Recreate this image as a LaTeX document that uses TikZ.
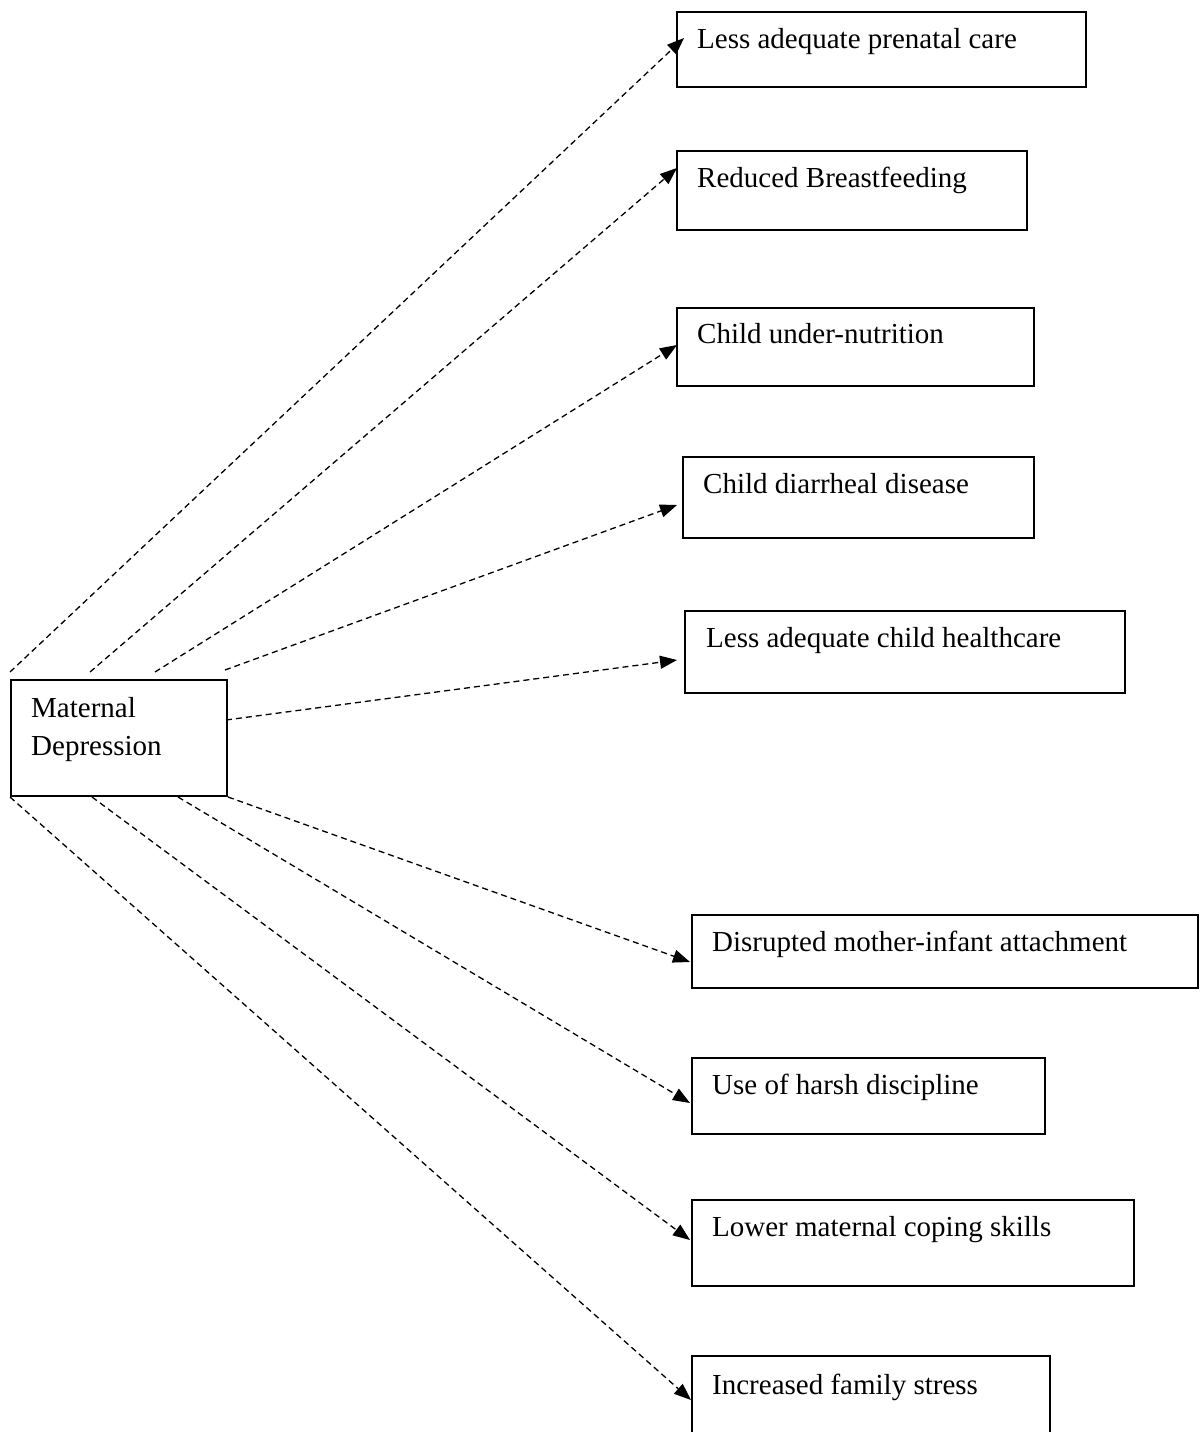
\documentclass[tikz,border=0pt]{standalone}
\usepackage{fontspec}
\setmainfont{Liberation Serif}
\usetikzlibrary{arrows.meta}
\begin{document}
\begin{tikzpicture}[x=1pt,y=-1pt,
  box/.style={draw,line width=1.5pt,inner sep=0pt,anchor=north west},
  txt/.style={anchor=base west,inner sep=0pt,font=\fontsize{29}{38}\selectfont},
  link/.style={dash pattern=on 6pt off 4pt,line width=1.3pt,
    -{Triangle[length=17pt,width=13pt]}}]
\useasboundingbox (0,0) rectangle (1203,1432);

% source box
\node[box,minimum width=216pt,minimum height=116pt] (md) at (10,679) {};
\node[txt] (mdt1) at (31,717) {Maternal};
\node[txt] (mdt2) at (31,755) {Depression};

% outcome boxes
\node[box,minimum width=409pt,minimum height=75pt] (b1) at (676,11) {};
\node[box,minimum width=350pt,minimum height=79pt] (b2) at (676,150) {};
\node[box,minimum width=357pt,minimum height=78pt] (b3) at (676,307) {};
\node[box,minimum width=351pt,minimum height=81pt] (b4) at (682,456) {};
\node[box,minimum width=440pt,minimum height=82pt] (b5) at (684,610) {};
\node[box,minimum width=506pt,minimum height=73pt] (b6) at (691,914) {};
\node[box,minimum width=353pt,minimum height=76pt] (b7) at (691,1057) {};
\node[box,minimum width=442pt,minimum height=86pt] (b8) at (691,1199) {};
\node[box,minimum width=358pt,minimum height=84pt] (b9) at (691,1355) {};

\node[txt] (t1) at (697,48) {Less adequate prenatal care};
\node[txt] (t2) at (697,187) {Reduced Breastfeeding};
\node[txt] (t3) at (697,343) {Child under-nutrition};
\node[txt] (t4) at (703,493) {Child diarrheal disease};
\node[txt] (t5) at (706,647) {Less adequate child healthcare};
\node[txt] (t6) at (712,951) {Disrupted mother-infant attachment};
\node[txt] (t7) at (712,1094) {Use of harsh discipline};
\node[txt] (t8) at (712,1236) {Lower maternal coping skills};
\node[txt] (t9) at (712,1394) {Increased family stress};

% connector start points around the source box
\coordinate (s1) at (10,672);
\coordinate (s2) at (90,672);
\coordinate (s3) at (155,672);
\coordinate (s4) at (225,670);
\coordinate (s5) at (226,720);
\coordinate (s6) at (228,797);
\coordinate (s7) at (178,797);
\coordinate (s8) at (92,797);
\coordinate (s9) at (10,797);

% arrow tips at the outcome boxes
\coordinate (e1) at (684,38);
\coordinate (e2) at (677,168);
\coordinate (e3) at (677,345);
\coordinate (e4) at (677,505);
\coordinate (e5) at (677,660);
\coordinate (e6) at (690,962);
\coordinate (e7) at (690,1103);
\coordinate (e8) at (690,1240);
\coordinate (e9) at (691,1400);

\foreach \i in {1,...,9}{
  \draw[link] (s\i) -- (e\i);
}
\end{tikzpicture}
\end{document}
